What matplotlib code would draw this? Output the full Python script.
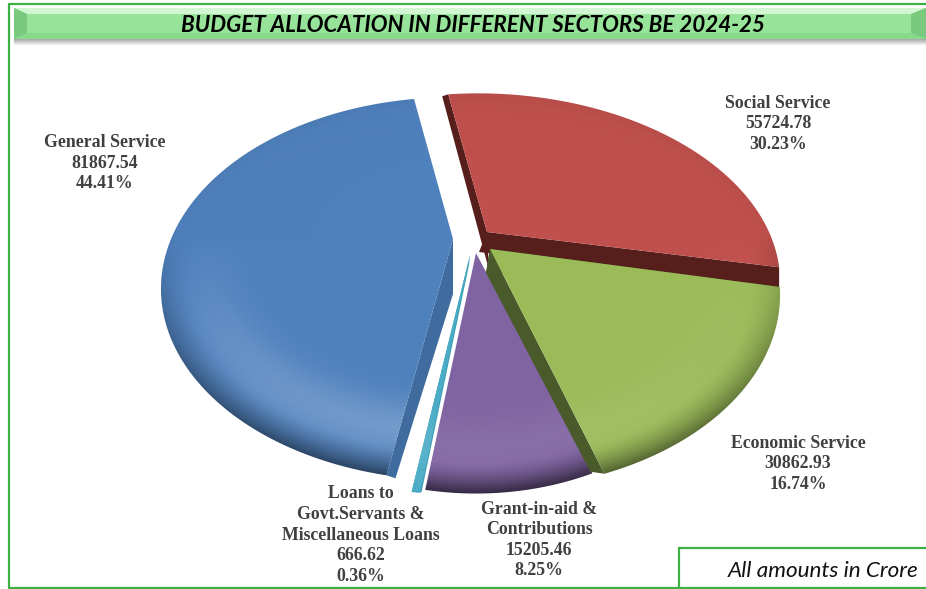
import numpy as np
import matplotlib
matplotlib.use("Agg")
import matplotlib.pyplot as plt
from matplotlib.patches import Polygon, Rectangle
from matplotlib.colors import to_rgb

sectors = ["Social Service", "Economic Service", "Grant-in-aid &\nContributions",
           "Loans to\nGovt.Servants &\nMiscellaneous Loans", "General Service"]
amounts = [55724.78, 30862.93, 15205.46, 666.62, 81867.54]
percents = ["30.23%", "16.74%", "8.25%", "0.36%", "44.41%"]
title = "BUDGET ALLOCATION IN DIFFERENT SECTORS BE 2024-25"
note = "All amounts in Crore"

face_colors = ["#c0504d", "#9bbb59", "#8064a2", "#4bacc6", "#4f81bd"]
side_colors = ["#571f1c", "#4b5a2b", "#3c2f50", "#3b9db3", "#3f6b9e"]
green = "#3cb043"

# look of the tilted pie
start_deg = -10
rx, ry = 300, 188
# apex x, apex y, scale x, scale y, perspective, turn in degrees, skew
placing = [(487, 232, 0.94, 0.91, 0.234, 2.5, 0.065), (490, 249, 0.94, 0.98, 0.234, 2.5, 0),
           (476, 253, 0.85, 0.98, 0.234, 0, 0), (470, 255, 1.0, 0.98, 0.234, -1.5, 0),
           (453, 239, 0.94, 0.95, 0.26, 0, 0)]
# side shift at apex and at rim, for the two straight edges (start, end)
sides = [[((2, 38), (-6, 2)), ((-8, 20), (0, 22))],
         [((-4, 24), (-2, 0)), ((-4, 24), (-14, -2))],
         [None, None],
         [None, ((-1, 10), (10, 0))],
         [((0, 55), (9, 3)), None]]
light_amt = [0.08, 0.08, 0.08, 0.1, 0.24]
rim_amt = [0.5, 0.5, 0.6, 0.0, 0.5]
label_pos = [(778, 124), (798, 464), (539, 540), (361, 535), (105, 163)]


def project(th, px, py, sx, sy, k, skew):
    u = np.sin(th)
    v = np.cos(th)
    d = 1 + k * v
    up = sy * ry * v / d
    return px + sx * rx * u / d - skew * up, py - up


def shade(rgb, px, py, sx, sy, k, light_a, rim_a, skew, W=926, H=589):
    yy, xx = np.mgrid[0:H, 0:W]
    a = (xx + 0.5 - px + skew * (py - yy - 0.5)) / (sx * rx)
    b = (py - yy - 0.5) / (sy * ry)
    v = b / (1 - k * b)
    u = a * (1 + k * v)
    rho = np.hypot(u, v)
    # light band low on the dish, dark lip at the rim
    low = np.clip(-v, 0, 1)
    light = light_a * np.exp(-((rho - 0.84) / 0.10) ** 2) * low
    dark = rim_a * np.clip((rho - 0.90) / 0.10, 0, 1) ** 1.5 * (0.05 + 0.95 * low)
    upper = 0.05 * np.clip(rho - 0.5, 0, 1) * np.clip(v, 0, 1)
    img = np.zeros((H, W, 3))
    for i in range(3):
        c = rgb[i] + light * (1 - rgb[i])
        img[..., i] = c * (1 - dark) * (1 - upper)
    return img


plt.rcParams["font.family"] = ["Liberation Serif", "DejaVu Serif"]
fig = plt.figure(figsize=(9.26, 5.89), dpi=100)
ax = fig.add_axes([0, 0, 1, 1])
ax.set_xlim(0, 926)
ax.set_ylim(589, 0)
ax.axis("off")

# outer frame
ax.plot([926, 9, 9, 926], [4, 4, 587.5, 587.5], color=green, lw=1.6, zorder=1)

# banner with bevel
for i, a in enumerate(np.linspace(0.3, 0.02, 7)):
    ax.add_patch(Rectangle((14, 38 + i), 912, 2, color="#555555", alpha=a, lw=0, zorder=2))
ax.add_patch(Polygon([(14, 8), (926, 8), (926, 39), (14, 39)], color="#8fdf92", lw=0, zorder=3))
ax.add_patch(Polygon([(14, 8), (926, 8), (911, 14), (27, 14)], color="#d2f6d2", lw=0, zorder=4))
ax.add_patch(Polygon([(14, 8), (27, 14), (27, 33), (14, 39)], color="#79c97e", lw=0, zorder=4))
ax.add_patch(Polygon([(926, 8), (911, 14), (911, 33), (926, 39)], color="#79c97e", lw=0, zorder=4))
ax.add_patch(Polygon([(14, 39), (27, 33), (911, 33), (926, 39)], color="#87d98b", lw=0, zorder=4))
ax.add_patch(Rectangle((27, 14), 884, 19, color="#96e399", lw=0, zorder=4))
ax.text(473, 25.5, title, family=["Lato", "DejaVu Sans"], fontsize=16.1, fontweight="bold",
        fontstyle="italic", color="black", ha="center", va="center", zorder=5)

# wedges
fractions = np.array(amounts) / sum(amounts)
edges = np.radians(start_deg + 360 * np.concatenate([[0], np.cumsum(fractions)]))
order = [0, 2, 3, 1, 4]
for z, i in enumerate(order):
    px, py, sx, sy, k, turn, skew = placing[i]
    th = np.linspace(edges[i], edges[i + 1], 120) + np.radians(turn)
    xs, ys = project(th, px, py, sx, sy, k, skew)
    base = 10 + 3 * z
    for e, xe, ye in zip(sides[i], (xs[0], xs[-1]), (ys[0], ys[-1])):
        if e is None:
            continue
        (ax_, ay_), (rx_, ry_) = e
        poly = [(px, py), (xe, ye), (xe + rx_, ye + ry_), (px + ax_, py + ay_)]
        ax.add_patch(Polygon(poly, color=side_colors[i], lw=0, zorder=base))
    face = Polygon(np.column_stack([np.r_[px, xs], np.r_[py, ys]]), fc="none", lw=0, zorder=base + 1)
    ax.add_patch(face)
    im = ax.imshow(shade(to_rgb(face_colors[i]), px, py, sx, sy, k, light_amt[i], rim_amt[i], skew),
                   extent=(0, 926, 589, 0), zorder=base + 1, interpolation="bilinear", aspect="auto")
    im.set_clip_path(face)

ax.set_xlim(0, 926)
ax.set_ylim(589, 0)

# labels
for name, val, pct, (lx, ly) in zip(sectors, amounts, percents, label_pos):
    ax.text(lx, ly, f"{name}\n{val:.2f}\n{pct}", fontsize=12.8, fontweight="bold", color="#404040",
            ha="center", va="center", linespacing=1.27, zorder=30)

# note box
ax.add_patch(Rectangle((679, 548), 260, 40, fc="white", ec=green, lw=1.6, zorder=31))
ax.text(918, 571, note, family=["Lato", "DejaVu Sans"], fontsize=16.2, fontstyle="italic",
        color="#111111", ha="right", va="center", zorder=32)

fig.savefig("out.png", dpi=100)
